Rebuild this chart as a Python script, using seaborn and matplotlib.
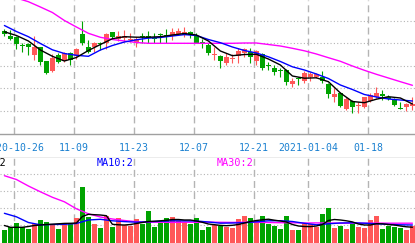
import matplotlib
matplotlib.use("Agg")
import matplotlib.pyplot as plt
import seaborn as sns
import numpy as np
import pandas as pd

# ---------------- data ----------------
opens = [4.093, 4.040, 4.033, 3.947, 3.957, 3.850, 3.927, 3.790, 3.690, 3.850,
         3.790, 3.873, 3.843, 4.060, 3.927, 3.933, 3.970, 3.967, 4.077, 4.015,
         4.017, 4.000, 3.983, 4.037, 4.043, 4.017, 4.050, 4.050, 4.040, 4.057,
         4.050, 4.083, 4.040, 3.983, 3.950, 3.850, 3.840, 3.767, 3.807, 3.843,
         3.867, 3.883, 3.790, 3.860, 3.747, 3.723, 3.693, 3.700, 3.557, 3.613,
         3.590, 3.627, 3.627, 3.633, 3.560, 3.427, 3.473, 3.307, 3.390, 3.343,
         3.327, 3.393, 3.433, 3.457, 3.433, 3.400, 3.313, 3.333, 3.340]
highs = [4.115, 4.100, 4.045, 3.967, 3.970, 4.040, 3.930, 3.795, 3.860, 3.867,
         3.877, 3.883, 3.917, 4.193, 4.000, 3.983, 3.983, 4.067, 4.080, 4.090,
         4.100, 4.067, 4.033, 4.067, 4.090, 4.067, 4.073, 4.110, 4.123, 4.117,
         4.133, 4.093, 4.067, 4.007, 3.967, 3.933, 3.850, 3.867, 3.857, 3.917,
         3.917, 3.917, 3.900, 3.867, 3.783, 3.750, 3.723, 3.707, 3.617, 3.633,
         3.690, 3.683, 3.673, 3.693, 3.567, 3.517, 3.483, 3.433, 3.400, 3.383,
         3.433, 3.467, 3.527, 3.500, 3.450, 3.417, 3.383, 3.367, 3.433]
lows = [4.040, 4.000, 3.910, 3.883, 3.850, 3.800, 3.750, 3.660, 3.683, 3.767,
        3.783, 3.750, 3.807, 3.950, 3.873, 3.883, 3.900, 3.907, 4.007, 3.993,
        3.983, 3.983, 3.927, 3.967, 3.967, 3.967, 3.967, 3.967, 4.000, 4.050,
        4.033, 4.017, 3.967, 3.923, 3.850, 3.800, 3.717, 3.750, 3.767, 3.767,
        3.827, 3.773, 3.750, 3.700, 3.700, 3.650, 3.633, 3.550, 3.533, 3.550,
        3.573, 3.590, 3.617, 3.573, 3.417, 3.383, 3.333, 3.300, 3.267, 3.273,
        3.317, 3.383, 3.417, 3.400, 3.400, 3.340, 3.307, 3.290, 3.300]
closes = [4.057, 4.010, 3.957, 3.940, 3.933, 3.933, 3.783, 3.673, 3.817, 3.783,
          3.867, 3.800, 3.907, 3.973, 3.883, 3.973, 3.963, 4.060, 4.033, 4.040,
          4.043, 4.010, 4.007, 4.027, 4.017, 4.013, 4.047, 4.027, 4.083, 4.090,
          4.083, 4.050, 3.967, 3.967, 3.873, 3.857, 3.790, 3.833, 3.813, 3.893,
          3.907, 3.833, 3.890, 3.717, 3.740, 3.683, 3.687, 3.583, 3.590, 3.607,
          3.673, 3.660, 3.660, 3.590, 3.460, 3.457, 3.340, 3.410, 3.333, 3.350,
          3.427, 3.447, 3.473, 3.440, 3.410, 3.350, 3.307, 3.357, 3.360]
volumes = [16, 19.3, 23.3, 19.3, 17, 21.8, 26, 24.2, 21.8, 17,
           21.8, 21.7, 28.3, 59.3, 29.3, 22, 18.3, 30.2, 19.3, 28,
           21.5, 20, 27, 21.8, 35, 19.3, 23.2, 28, 29.2, 25.3,
           24.3, 22, 28, 16, 19.3, 21, 20.5, 19.3, 18.3, 27,
           30.2, 28.3, 25.3, 30.2, 21.7, 20.3, 17, 30.2, 16, 16,
           22.7, 21.7, 19.3, 32, 38.3, 18.3, 20.3, 17.3, 22, 19.3,
           18.3, 26, 30, 17.3, 20, 19.3, 18.3, 16.3, 20]

# price moving averages read at every second trading day
ma_days = list(range(0, 69, 2))
ma5 = [4.082, 4.045, 3.990, 3.900, 3.837, 3.790, 3.825, 3.895, 3.955, 4.013,
       4.033, 4.028, 4.028, 4.033, 4.050, 4.065, 4.050, 3.990, 3.890, 3.843,
       3.855, 3.857, 3.810, 3.750, 3.640, 3.618, 3.622, 3.583, 3.470, 3.385,
       3.373, 3.408, 3.433, 3.420, 3.360]
ma10 = [4.145, 4.085, 4.033, 3.965, 3.902, 3.865, 3.847, 3.837, 3.900, 3.945,
        3.980, 4.002, 4.019, 4.025, 4.040, 4.054, 4.045, 4.005, 3.973, 3.930,
        3.895, 3.870, 3.832, 3.785, 3.732, 3.700, 3.660, 3.615, 3.550, 3.505,
        3.455, 3.430, 3.410, 3.400, 3.390]
ma30 = [4.470, 4.420, 4.383, 4.330, 4.275, 4.195, 4.130, 4.067, 4.027, 4.005,
        3.990, 3.975, 3.967, 3.967, 3.967, 3.967, 3.967, 3.967, 3.967, 3.967,
        3.970, 3.970, 3.955, 3.940, 3.917, 3.892, 3.860, 3.823, 3.787, 3.740,
        3.697, 3.657, 3.620, 3.583, 3.547]

# volume moving averages
vma5 = [20.5, 18.7, 18.7, 18.7, 19.5, 20.5, 21, 21.5, 21.8, 22.2,
        22.6, 22.7, 23, 29.5, 31.7, 31.3, 31, 30.3, 21.7, 21.2,
        21, 21.5, 22.5, 23.5, 24.5, 24.8, 25.2, 25.7, 26.5, 26.5,
        26, 26, 25, 23.7, 22, 21.3, 20.6, 20.3, 20.7, 21.5,
        23, 24.5, 25.5, 26.2, 26.8, 25.8, 25, 24, 21.5, 20,
        19.5, 19.4, 20, 21.5, 25.5, 26.5, 26, 25.2, 24.1, 22,
        21, 21, 22.3, 22.2, 21.5, 21, 20, 19.2, 18.8]
vma10 = [32.7, 29.2, 23.5, 21.2, 21.5, 21.7, 22.5, 26, 26.7, 25.2,
         24.4, 23.8, 24.2, 24.7, 25.2, 25.1, 25, 24, 22.8, 23,
         23.3, 24.2, 25.2, 25.3, 24.5, 22.7, 21.2, 22.2, 23, 23.2,
         22.8, 22.2, 21.6, 21.2, 21]
vma30 = [70.3, 66.5, 60, 54.2, 48.7, 44.2, 37.2, 32.2, 29, 27,
         25.5, 24.3, 23.8, 23.8, 23.6, 23.8, 23.7, 23.9, 23.7, 23.6,
         23.8, 23.7, 23.5, 23.3, 23.2, 23.0, 23.1, 23.0, 22.8, 22.9,
         22.8, 22.9, 22.8, 22.8, 22.8]

tick_days = [2, 12, 22, 32, 42, 51, 61]
tick_labels = ["2020-10-26", "11-09", "11-23", "12-07", "12-21", "2021-01-04", "01-18"]

# ---------------- style ----------------
RED = "#ff5858"
GREEN = "#00a300"
GRID = "#b4b4b4"
W, H = 415, 243

sns.set_style("white")
plt.rcParams["font.family"] = ["DejaVu Sans Mono", "DejaVu Sans"]

fig = plt.figure(figsize=(W / 100, H / 100), dpi=100)
fig.patch.set_facecolor("white")


def rect(top, bottom):
    return [0, 1 - bottom / H, 1, (bottom - top) / H]


ax_p = fig.add_axes(rect(0, 134))
ax_d = fig.add_axes(rect(134, 158))
ax_v = fig.add_axes(rect(158, 243))

xmin, xmax = -4.4 / 6, (W - 4.4) / 6
for ax in (ax_p, ax_d, ax_v):
    ax.set_xlim(xmin, xmax)
    ax.set_facecolor("white")
    ax.set_xticks([])
    ax.set_yticks([])
    for s in ax.spines.values():
        s.set_visible(False)

ax_p.set_ylim(3.06, 4.40)
ax_v.set_ylim(3, 88)
ax_d.set_ylim(0, 1)
ax_d.spines["top"].set_visible(True)
ax_d.spines["bottom"].set_visible(True)
for k in ("top", "bottom"):
    ax_d.spines[k].set_color("#a0a0a0")
    ax_d.spines[k].set_linewidth(1.0)

# grids
for g in [4.193, 3.967, 3.743, 3.517, 3.290]:
    ax_p.axhline(g, color=GRID, lw=0.8, ls=(0, (1, 2)), zorder=0)
for g in [71.7, 54.8, 37.9, 21.0]:
    ax_v.axhline(g, color=GRID, lw=0.8, ls=(0, (1, 2)), zorder=0)
for t in tick_days:
    for ax in (ax_p, ax_v):
        ax.axvline(t - 0.37, color=GRID, lw=1.0, ls=(0, (5, 3)), zorder=0)

# candles
n = len(opens)
idx = np.arange(n)
df = pd.DataFrame({"day": idx, "open": opens, "high": highs, "low": lows,
                   "close": closes, "volume": volumes})
df["up"] = df["close"] > df["open"]
df["color"] = np.where(df["up"], RED, GREEN)

ax_p.vlines(df["day"], df["low"], df["high"], colors=df["color"], lw=0.8, zorder=2)
body = np.maximum((df["close"] - df["open"]).abs(), 0.009)
ax_p.bar(df["day"], body, bottom=np.minimum(df["open"], df["close"]),
         width=0.83, color=df["color"], linewidth=0, zorder=3)

# price MAs
sns.lineplot(x=ma_days, y=ma30, ax=ax_p, color="#ff00ff", lw=1.0, zorder=4)
sns.lineplot(x=ma_days, y=ma10, ax=ax_p, color="#0000ff", lw=1.0, zorder=5)
sns.lineplot(x=ma_days, y=ma5, ax=ax_p, color="black", lw=1.0, zorder=6)

# volume bars
ax_v.bar(df["day"], df["volume"], width=0.83, color=df["color"], linewidth=0, zorder=2)
sns.lineplot(x=ma_days, y=vma30, ax=ax_v, color="#ff00ff", lw=1.0, zorder=4)
sns.lineplot(x=ma_days, y=vma10, ax=ax_v, color="#0000ff", lw=1.0, zorder=5)
sns.lineplot(x=list(idx), y=vma5, ax=ax_v, color="black", lw=1.0, zorder=6)
for ax in (ax_p, ax_v):
    ax.set_xlabel("")
    ax.set_ylabel("")
    ax.set_xlim(xmin, xmax)
ax_p.set_ylim(3.06, 4.40)
ax_v.set_ylim(3, 88)

# date labels
for t, lab in zip(tick_days, tick_labels):
    ax_d.text(t - 0.37, 0.42, lab, ha="center", va="center",
              color="#1a80d0", fontsize=7.1)

# MA legend texts in volume pane
fig.text(5.8 / W, 1 - 163 / H, "MA5:2", ha="right", va="center",
         color="black", fontsize=7.3)
fig.text(96.5 / W, 1 - 163 / H, "MA10:2", ha="left", va="center",
         color="#0000ff", fontsize=7.3)
fig.text(216.5 / W, 1 - 163 / H, "MA30:2", ha="left", va="center",
         color="#ff00ff", fontsize=7.3)

fig.savefig("out.png", dpi=100, facecolor="white")
